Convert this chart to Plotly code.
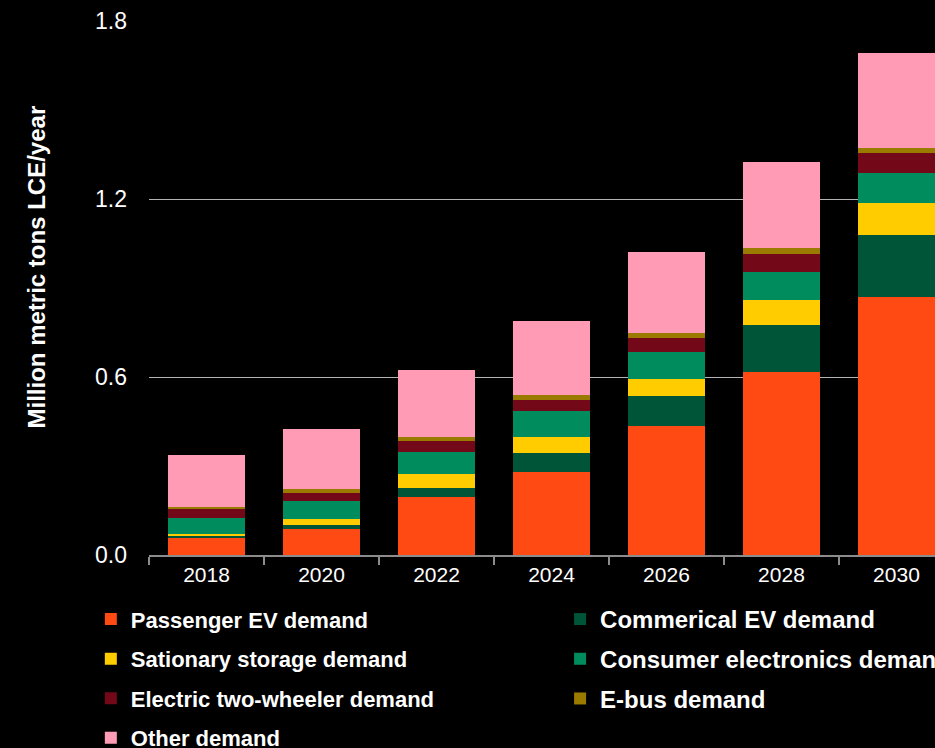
import plotly.graph_objects as go

years = ["2018", "2020", "2022", "2024", "2026", "2028", "2030"]
passenger_ev = [0.056, 0.087, 0.196, 0.281, 0.435, 0.618, 0.869]
commercial_ev = [0.009, 0.013, 0.031, 0.062, 0.101, 0.158, 0.211]
stationary = [0.005, 0.020, 0.046, 0.055, 0.058, 0.082, 0.105]
consumer_elec = [0.054, 0.061, 0.075, 0.087, 0.090, 0.096, 0.101]
two_wheeler = [0.030, 0.028, 0.036, 0.038, 0.048, 0.062, 0.068]
e_bus = [0.009, 0.013, 0.014, 0.016, 0.016, 0.018, 0.017]
other = [0.175, 0.203, 0.227, 0.250, 0.273, 0.290, 0.321]

y_ticks = [0.0, 0.6, 1.2, 1.8]
y_tick_text = ["0.0", "0.6", "1.2", "1.8"]
y_title = "Million metric tons LCE/year"

series = [
    ("Passenger EV demand", passenger_ev, "#FF4A14", "legend"),
    ("Commerical EV demand", commercial_ev, "#005438", "legend2"),
    ("Sationary storage demand", stationary, "#FFCC00", "legend"),
    ("Consumer electronics demand", consumer_elec, "#008C5C", "legend2"),
    ("Electric two-wheeler demand", two_wheeler, "#720818", "legend"),
    ("E-bus demand", e_bus, "#9A7B00", "legend2"),
    ("Other demand", other, "#FF9BB5", "legend"),
]

fig = go.Figure()
for name, vals, color, leg in series:
    fig.add_trace(go.Bar(
        x=years, y=vals, name=name,
        marker=dict(color=color, line=dict(width=0)),
        width=0.67,
        legend=leg,
        legendgroup=name,
    ))

FONT = "Arial, Liberation Sans, sans-serif"

fig.update_layout(
    width=935, height=748,
    barmode="stack",
    paper_bgcolor="black",
    plot_bgcolor="black",
    font=dict(family=FONT, color="white", size=20),
    margin=dict(l=149, r=0, t=21, b=193, autoexpand=False),
    xaxis=dict(
        range=[-0.5, 6.335],
        showline=True, linecolor="#8C8C8C", linewidth=2,
        ticks="outside", tickson="boundaries", ticklen=8,
        tickcolor="#8C8C8C", tickwidth=2,
        showgrid=False,
        tickfont=dict(size=21, color="white"),
    ),
    yaxis=dict(
        range=[0, 1.8],
        tickvals=y_ticks, ticktext=y_tick_text,
        showgrid=True, gridcolor="#B4B4B4", gridwidth=1,
        zeroline=False,
        ticks="", ticklabelstandoff=21,
        tickfont=dict(size=23, color="white"),
    ),
    legend=dict(
        x=-0.074, y=-0.081, xanchor="left", yanchor="top",
        orientation="v", traceorder="grouped", tracegroupgap=8,
        font=dict(size=22, color="white", weight="bold"),
        bgcolor="rgba(0,0,0,0)", itemwidth=30,
    ),
    legend2=dict(
        x=0.523, y=-0.0786, xanchor="left", yanchor="top",
        orientation="v", traceorder="grouped", tracegroupgap=5.5,
        font=dict(size=24, color="white", weight="bold"),
        bgcolor="rgba(0,0,0,0)", itemwidth=30,
    ),
    annotations=[dict(
        text=y_title, textangle=-90,
        xref="paper", yref="paper",
        x=(36 - 149) / 786, y=(555 - 267.5) / 534,
        xanchor="center", yanchor="middle", showarrow=False,
        font=dict(size=24, color="white", weight="bold"),
    )],
)

fig.write_html(
    "out.html",
    config={"displayModeBar": False},
    post_script="document.body.style.margin='0px';document.body.style.background='black';",
)
